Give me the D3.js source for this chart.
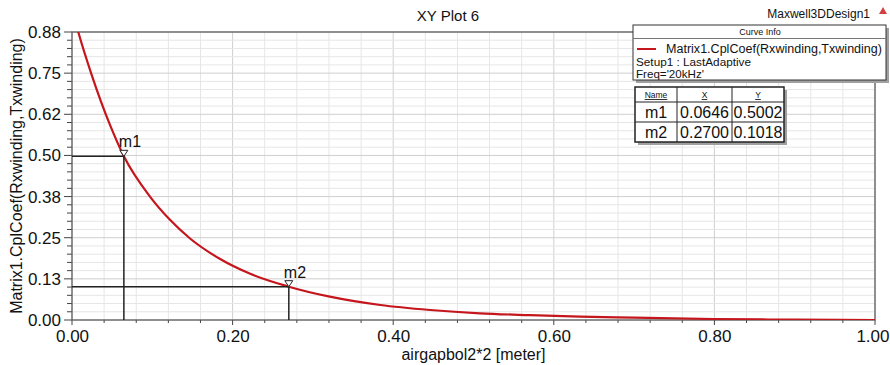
<html><head>
<meta charset="utf-8">
<title>XY Plot 6</title>
<script src="https://cdn.jsdelivr.net/npm/d3@7"></script>
<style>
  body { margin: 0; background: #fff; }
  text { font-family: "Liberation Sans", Arial, sans-serif; fill: #111; }
</style>
</head>
<body>
<div id="chart"></div>
<script>

// curve samples
var xs = [0, 0.0078, 0.0245, 0.0473, 0.0646, 0.0971, 0.122, 0.147, 0.184, 0.222, 0.27, 0.321, 0.384, 0.446, 0.508, 0.57, 0.633, 0.70, 0.80, 0.90, 1.0];
var ys = [0.95, 0.88, 0.749, 0.596, 0.5002, 0.377, 0.306, 0.249, 0.187, 0.141, 0.1018, 0.0713, 0.0458, 0.0306, 0.0204, 0.0148, 0.0102, 0.007, 0.003, 0.001, 0.0];

// axis ticks
var xTicks = [0, 0.2, 0.4, 0.6, 0.8, 1.0];
var xTickLabels = ["0.00", "0.20", "0.40", "0.60", "0.80", "1.00"];
var yTicks = [0, 1, 2, 3, 4, 5, 6, 7].map(function(i) { return i * 0.88 / 7; });
var yTickLabels = ["0.00", "0.13", "0.25", "0.38", "0.50", "0.62", "0.75", "0.88"];

// markers
var markerNames = ["m1", "m2"];
var markerX = [0.0646, 0.2700];
var markerY = [0.5002, 0.1018];

var W = 890, H = 365;
var svg = d3.select("#chart").append("svg")
    .attr("width", W).attr("height", H);

var x = d3.scaleLinear().domain([0, 1]).range([72, 875]);
var y = d3.scaleLinear().domain([0, 0.88]).range([320, 32]);

// grid
var xMinor = d3.range(0, 26).map(function(i) { return i * 0.04; });
var yMinor = d3.range(0, 36).map(function(i) { return i * 0.88 / 35; });

svg.append("g").selectAll("line").data(xMinor).enter().append("line")
    .attr("x1", function(d) { return x(d); }).attr("x2", function(d) { return x(d); })
    .attr("y1", y(0)).attr("y2", y(0.88))
    .attr("stroke", function(d, i) { return i % 5 == 0 ? "#cfcfcf" : "#e6e6e6"; })
    .attr("stroke-width", 1);

svg.append("g").selectAll("line").data(yMinor).enter().append("line")
    .attr("x1", x(0)).attr("x2", x(1))
    .attr("y1", function(d) { return y(d); }).attr("y2", function(d) { return y(d); })
    .attr("stroke", function(d, i) { return i % 5 == 0 ? "#cfcfcf" : "#e6e6e6"; })
    .attr("stroke-width", 1);

// minor tick marks
svg.append("g").selectAll("line").data(xMinor).enter().append("line")
    .attr("x1", function(d) { return x(d); }).attr("x2", function(d) { return x(d); })
    .attr("y1", y(0)).attr("y2", function(d, i) { return y(0) + (i % 5 == 0 ? 5 : 3); })
    .attr("stroke", "#444");
svg.append("g").selectAll("line").data(yMinor).enter().append("line")
    .attr("y1", function(d) { return y(d); }).attr("y2", function(d) { return y(d); })
    .attr("x1", x(0)).attr("x2", function(d, i) { return x(0) - (i % 5 == 0 ? 8 : 5); })
    .attr("stroke", "#444");

// axes (labels only)
var xAxis = d3.axisBottom(x).tickValues(xTicks).tickSize(0).tickPadding(10)
    .tickFormat(function(d, i) { return xTickLabels[i]; });
var gx = svg.append("g").attr("transform", "translate(0," + y(0) + ")").call(xAxis);
gx.select(".domain").remove();
gx.selectAll("text").style("font-size", "17px").attr("fill", "#111");
// last label sits against the right edge
gx.selectAll("text").filter(function(d) { return d == 1; })
    .attr("text-anchor", "end").attr("dx", 14);

var yAxis = d3.axisLeft(y).tickValues(yTicks).tickSize(0).tickPadding(11)
    .tickFormat(function(d, i) { return yTickLabels[i]; });
var gy = svg.append("g").attr("transform", "translate(" + x(0) + ",0)").call(yAxis);
gy.select(".domain").remove();
gy.selectAll("text").style("font-size", "17px").attr("fill", "#111");

// frame
svg.append("rect")
    .attr("x", x(0)).attr("y", y(0.88))
    .attr("width", x(1) - x(0)).attr("height", y(0) - y(0.88))
    .attr("fill", "none").attr("stroke", "#555").attr("stroke-width", 1.2);

// curve
svg.append("clipPath").attr("id", "clip").append("rect")
    .attr("x", x(0)).attr("y", y(0.88))
    .attr("width", x(1) - x(0)).attr("height", y(0) - y(0.88));

var pts = xs.map(function(v, i) { return [v, ys[i]]; });
svg.append("path")
    .datum(pts)
    .attr("clip-path", "url(#clip)")
    .attr("fill", "none")
    .attr("stroke", "#c4161c")
    .attr("stroke-width", 2.2)
    .attr("d", d3.line()
      .x(function(d) { return x(d[0]); })
      .y(function(d) { return y(d[1]); })
      .curve(d3.curveMonotoneX));

// marker guide lines
markerNames.forEach(function(name, i) {
  var mx = x(markerX[i]), my = y(markerY[i]);
  svg.append("line").attr("x1", x(0)).attr("x2", mx).attr("y1", my).attr("y2", my)
      .attr("stroke", "#222").attr("stroke-width", 1.5);
  svg.append("line").attr("x1", mx).attr("x2", mx).attr("y1", my).attr("y2", y(0))
      .attr("stroke", "#222").attr("stroke-width", 1.5);
  svg.append("path")
      .attr("d", "M" + (mx - 4) + "," + (my - 6) + "L" + (mx + 4) + "," + (my - 6) + "L" + mx + "," + my + "Z")
      .attr("fill", "#fff").attr("stroke", "#222").attr("stroke-width", 1);
  svg.append("text").attr("x", mx - 5).attr("y", my - 9)
      .style("font-size", "16px").text(name);
});

// titles
svg.append("text").attr("x", 448).attr("y", 21).attr("text-anchor", "middle")
    .style("font-size", "15px").text("XY Plot 6");
svg.append("text").attr("x", 870).attr("y", 18).attr("text-anchor", "end")
    .style("font-size", "12px").text("Maxwell3DDesign1");
svg.append("path").attr("d", "M879,14 L883,7 L887,14 Z").attr("fill", "#d04040");

svg.append("text").attr("x", (x(0) + x(1)) / 2).attr("y", 360).attr("text-anchor", "middle")
    .style("font-size", "16px").text("airgapbol2*2 [meter]");
svg.append("text").attr("transform", "translate(22," + ((y(0) + y(0.88)) / 2) + ") rotate(-90)")
    .attr("text-anchor", "middle").style("font-size", "16px")
    .text("Matrix1.CplCoef(Rxwinding,Txwinding)");

// curve info box
svg.append("rect").attr("x", 636).attr("y", 28).attr("width", 253).attr("height", 55).attr("fill", "#a0a0a0");
svg.append("rect").attr("x", 633).attr("y", 25).attr("width", 253).attr("height", 55)
    .attr("fill", "#fff").attr("stroke", "#333").attr("stroke-width", 1);
svg.append("line").attr("x1", 633).attr("x2", 886).attr("y1", 38.5).attr("y2", 38.5).attr("stroke", "#777");
svg.append("text").attr("x", 760).attr("y", 35).attr("text-anchor", "middle")
    .style("font-size", "9px").text("Curve Info");
svg.append("line").attr("x1", 637).attr("x2", 656).attr("y1", 49).attr("y2", 49)
    .attr("stroke", "#c4161c").attr("stroke-width", 2);
svg.append("text").attr("x", 666).attr("y", 53).style("font-size", "12.5px")
    .attr("textLength", 216).attr("lengthAdjust", "spacingAndGlyphs")
    .text("Matrix1.CplCoef(Rxwinding,Txwinding)");
svg.append("text").attr("x", 636).attr("y", 65.5).style("font-size", "11.5px")
    .attr("textLength", 115).attr("lengthAdjust", "spacingAndGlyphs").text("Setup1 : LastAdaptive");
svg.append("text").attr("x", 636).attr("y", 77.5).style("font-size", "11.5px")
    .attr("textLength", 68).attr("lengthAdjust", "spacingAndGlyphs").text("Freq='20kHz'");

// marker table
var colX = [635, 677, 732, 784];
var rowY = [87, 102, 122, 142];
svg.append("rect").attr("x", 638).attr("y", 90).attr("width", 149).attr("height", 55).attr("fill", "#a0a0a0");
svg.append("rect").attr("x", 635).attr("y", 87).attr("width", 149).attr("height", 55)
    .attr("fill", "#fff").attr("stroke", "#222").attr("stroke-width", 1.5);
colX.slice(1, 3).forEach(function(cx) {
  svg.append("line").attr("x1", cx).attr("x2", cx).attr("y1", 87).attr("y2", 142).attr("stroke", "#222");
});
rowY.slice(1, 3).forEach(function(ry) {
  svg.append("line").attr("x1", 635).attr("x2", 784).attr("y1", ry).attr("y2", ry).attr("stroke", "#222");
});
var headers = ["Name", "X", "Y"];
headers.forEach(function(h, j) {
  svg.append("text").attr("x", (colX[j] + colX[j + 1]) / 2).attr("y", 98)
      .attr("text-anchor", "middle").style("font-size", "8.5px")
      .style("text-decoration", "underline").text(h);
});
markerNames.forEach(function(name, i) {
  var cells = [name, markerX[i].toFixed(4), markerY[i].toFixed(4)];
  cells.forEach(function(c, j) {
    svg.append("text").attr("x", (colX[j] + colX[j + 1]) / 2).attr("y", rowY[i + 1] + 16)
        .attr("text-anchor", "middle").style("font-size", "16px").text(c);
  });
});

</script>
</body></html>
